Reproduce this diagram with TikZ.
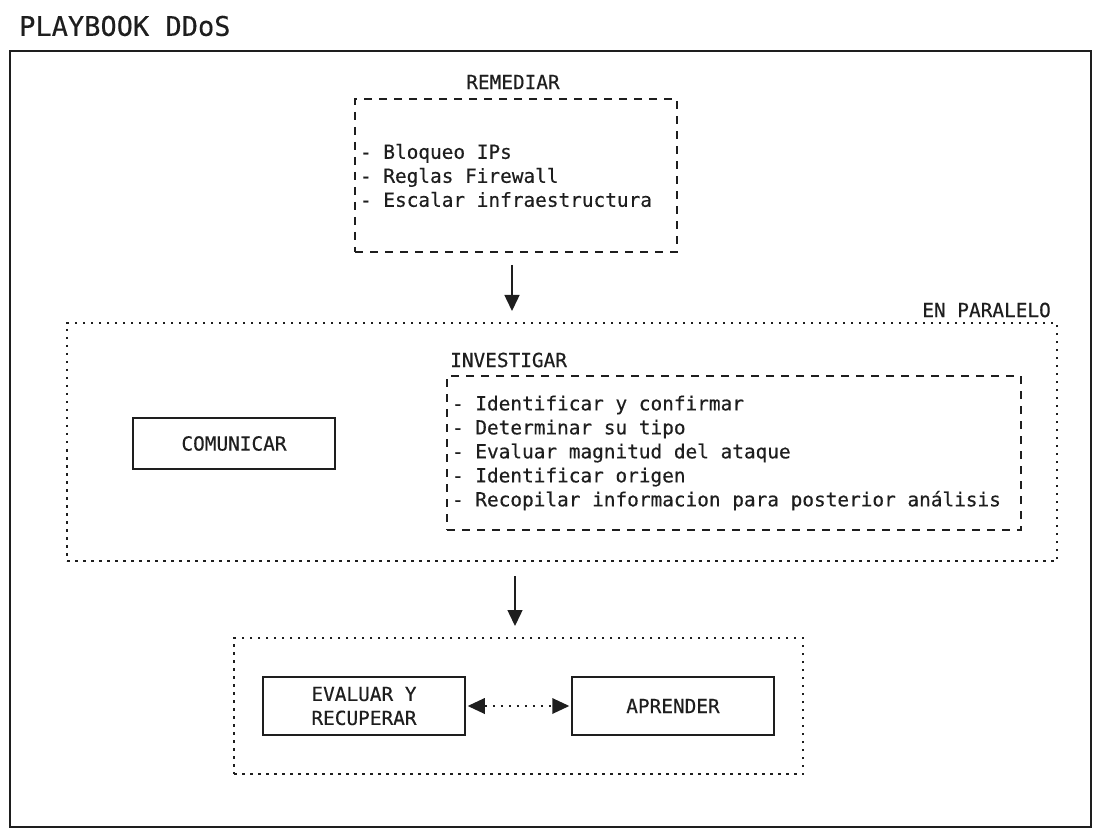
\documentclass[tikz,border=0pt]{standalone}
\usepackage{fontspec}
\setmonofont{DejaVu Sans Mono}[FakeBold=0.4]
\usepackage{tikz}
\usetikzlibrary{arrows.meta}
\definecolor{ink}{HTML}{1E1E1E}
\newcommand\diagfont{\ttfamily\fontsize{19.4}{24}\selectfont}
\newcommand\monospace{\spaceskip=0.602em\xspaceskip=0.602em\relax}

\begin{document}
\begin{tikzpicture}[x=1pt,y=1pt,yscale=-1,xscale=1,
  txt/.style={font=\diagfont, text=ink, inner sep=0pt, execute at begin node=\monospace},
  solidbox/.style={draw=ink, line width=1.5, txt, minimum width=202, align=center},
  dashbox/.style={draw=ink, line width=2, dash pattern=on 8pt off 7pt, txt, inner xsep=5pt, align=left},
  dotbox/.style={draw=ink, line width=2, dash pattern=on 2.5pt off 5.5pt},
  flow/.style={draw=ink, line width=1.5, -{Triangle[length=16pt,width=15pt]}},
  twoway/.style={draw=ink, line width=2, dash pattern=on 2.5pt off 5.5pt, {Triangle[length=17pt,width=16pt,line width=0pt]}-{Triangle[length=17pt,width=16pt,line width=0pt]}}]
\useasboundingbox (0,0) rectangle (1101,837);

% Title and frame
\node (title) [txt, font=\ttfamily\fontsize{27}{30}\selectfont, anchor=west] at (19,26) {PLAYBOOK DDoS};
\draw [ink, line width=1.5] (10,51) rectangle (1091,827);

% Remediar
\node (remlbl) [txt] at (513,82) {REMEDIAR};
\node (rem) [dashbox, text width=312, minimum height=153] at (516,175.5) {- Bloqueo IPs\\- Reglas Firewall\\- Escalar infraestructura};

% En paralelo
\node (par) [dotbox, minimum width=990, minimum height=238] at (562,442) {};
\node (parlbl) [txt, anchor=east] at (1051,310) {EN PARALELO};
\node (com) [solidbox, minimum height=51] at (234,443.5) {COMUNICAR};
\node (invlbl) [txt, anchor=west] at (450,360) {INVESTIGAR};
\node (inv) [dashbox, text width=564, minimum height=154] at (734,453) {- Identificar y confirmar\\- Determinar su tipo\\- Evaluar magnitud del ataque\\- Identificar origen\\- Recopilar informacion para posterior análisis};

% Cierre
\node (low) [dotbox, minimum width=569, minimum height=136] at (518.5,706) {};
\node (evr) [solidbox, minimum height=58] at (364,706) {EVALUAR Y\\RECUPERAR};
\node (apr) [solidbox, minimum height=58] at (673,706) {APRENDER};

% Connectors
\draw [flow, shorten <=12pt, shorten >=11pt] ([xshift=-4pt]rem.south) -- ([xshift=-4pt]rem.south |- par.north);
\draw [flow, shorten <=14pt, shorten >=11pt] ([xshift=-3.5pt]low.north |- par.south) -- ([xshift=-3.5pt]low.north);
\draw [twoway, shorten <=2pt, shorten >=2pt] (evr.east) -- (apr.west);
\end{tikzpicture}
\end{document}
